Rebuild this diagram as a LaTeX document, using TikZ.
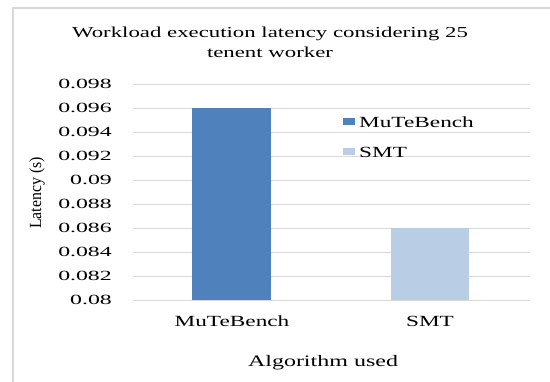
\documentclass[tikz,border=0pt]{standalone}
\usepackage{fontspec}
\setmainfont{Liberation Serif}
\newfontfamily\widefont[FakeStretch=1.5]{Liberation Serif}
\newfontfamily\tickfont[FakeStretch=1.7]{Liberation Serif}
\newfontfamily\narrowfont[FakeStretch=0.93]{Liberation Serif}
\definecolor{gridgray}{HTML}{D9D9D9}
\definecolor{frame}{HTML}{D9D9D9}
\definecolor{barA}{HTML}{4F81BD}
\definecolor{barB}{HTML}{B9CDE5}
\begin{document}
\begin{tikzpicture}[x=1pt,y=-1pt,
  grid/.style={draw=gridgray,line width=0.9pt},
  ticklab/.style={anchor=east,inner sep=0pt,font=\tickfont\fontsize{14}{16}\selectfont},
  catlab/.style={inner sep=0pt,font=\widefont\fontsize{15.5}{17}\selectfont},
  legtext/.style={anchor=west,inner sep=0pt,font=\widefont\fontsize{15.5}{17}\selectfont}]
\useasboundingbox (0,0) rectangle (550,382);
\fill[white] (0,0) rectangle (550,382);
% chart frame (top and left edges)
\draw[frame,line width=2pt] (13,382) -- (13,8) -- (550,8);
% title
\node[align=center,inner sep=0pt,font=\widefont\fontsize{15.2}{20}\selectfont] (title) at (270,42)
  {Workload execution latency considering 25\\tenent worker};
% grid lines and tick labels
\foreach \i/\lab in {0/0.098,1/0.096,2/0.094,3/0.092,4/0.09,5/0.088,6/0.086,7/0.084,8/0.082,9/0.08}{
  \draw[grid] (133,84+24*\i) -- (530,84+24*\i);
  \node[ticklab] (t\i) at (112,84+24*\i) {\lab};
}
% bars
\fill[barA] (192,108) rectangle (271,300);
\fill[barB] (391,228) rectangle (469,300);
\draw[grid] (133,300) -- (530,300);
% category labels
\node[catlab] (c1) at (232,321) {MuTeBench};
\node[catlab] (c2) at (430,321) {SMT};
% axis titles
\node[inner sep=0pt,font=\widefont\fontsize{16}{18}\selectfont] (xt) at (323,363) {Algorithm used};
\node[rotate=90,inner sep=0pt,font=\narrowfont\fontsize{17}{19}\selectfont] (yt) at (37,193) {Latency (s)};
% legend
\fill[barA] (343,118) rectangle (355,125);
\node[legtext] (l1) at (359,122) {MuTeBench};
\fill[barB] (343,148) rectangle (355,155);
\node[legtext] (l2) at (359,152) {SMT};
\end{tikzpicture}
\end{document}
